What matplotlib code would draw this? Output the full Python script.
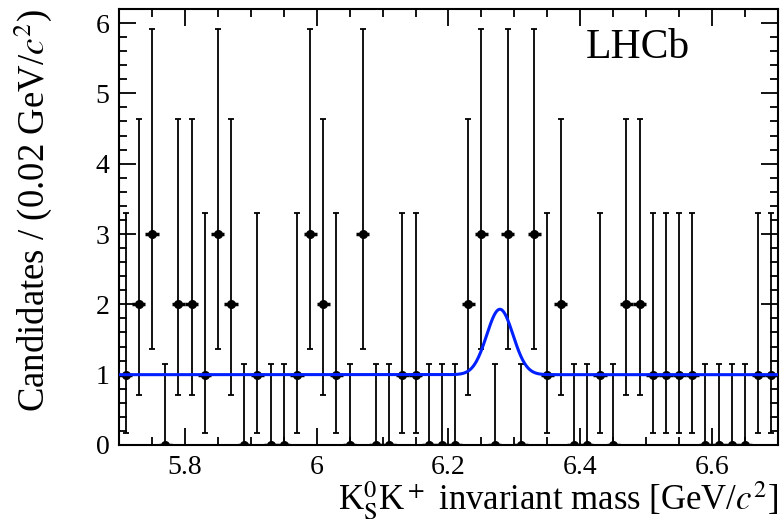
import numpy as np
import matplotlib
matplotlib.use("Agg")
from matplotlib import pyplot as plt
from matplotlib.ticker import MultipleLocator

plt.rcParams['font.family'] = ['Liberation Serif', 'DejaVu Serif']
plt.rcParams['mathtext.fontset'] = 'stix'

# Данные гистограммы: центры бинов (ширина 0.02 ГэВ) и число кандидатов
bin_lo = 5.70
bin_w = 0.02
counts = [1, 2, 3, 0, 2, 2, 1, 3, 2, 0,
          1, 0, 0, 1, 3, 2, 1, 0, 3, 0,
          0, 1, 1, 0, 0, 0, 2, 3, 0, 3,
          0, 3, 1, 2, 0, 0, 1, 0, 2, 2,
          1, 1, 1, 1, 0, 0, 0, 0, 1, 1]
# пуассоновские ошибки (нижняя / верхняя) в зависимости от числа событий
err_low = [0.0, 0.827, 1.292, 1.633]
err_high = [1.148, 2.300, 2.638, 2.918]

# параметры аппроксимации: фон + гаусс
bkg = 1.0
amp = 0.93
mean = 6.278
sigma = 0.020

centers = bin_lo + bin_w * (np.arange(len(counts)) + 0.5)
n = np.array(counts)
lo = np.array([err_low[c] for c in counts])
hi = np.array([err_high[c] for c in counts])

fig = plt.figure(figsize=(7.8, 5.27), dpi=100)
ax = fig.add_axes([0.1526, 0.1556, 0.8448, 0.8274])

ax.errorbar(centers, n, yerr=[lo, hi], fmt='none', ecolor='black',
            elinewidth=1.3, capsize=2, capthick=1.3, zorder=2)
ax.errorbar(centers, n, xerr=bin_w / 2, fmt='o', color='black', ms=5.5,
            elinewidth=2.5, zorder=3)

x = np.linspace(5.70, 6.70, 1000)
ax.plot(x, bkg + amp * np.exp(-0.5 * ((x - mean) / sigma) ** 2),
        color='#0020ff', lw=2.2, zorder=4)

ax.set_xlim(5.70, 6.70)
ax.set_ylim(0, 6.2)
ax.xaxis.set_major_locator(MultipleLocator(0.2))
ax.xaxis.set_minor_locator(MultipleLocator(0.05))
ax.yaxis.set_major_locator(MultipleLocator(1))
ax.yaxis.set_minor_locator(MultipleLocator(0.2))
ax.set_xticks([5.8, 6.0, 6.2, 6.4, 6.6])
ax.set_xticklabels(['5.8', '6', '6.2', '6.4', '6.6'])
ax.tick_params(which='both', direction='in', top=True, right=True,
               labelsize=20, width=1.3)
ax.tick_params(which='major', length=12, pad=7)
ax.tick_params(which='minor', length=6)
for s in ax.spines.values():
    s.set_linewidth(1.5)

ax.set_xlabel(r'K$^0_{\rm S}$K$^+$ invariant mass [GeV/$c^2$]', fontsize=25,
              loc='right', labelpad=0)
ax.set_ylabel(r'Candidates / (0.02 GeV/$c^2$)', fontsize=26.5, loc='top',
              labelpad=30)
ax.text(0.788, 0.91, 'LHCb', transform=ax.transAxes, fontsize=30,
        ha='center', va='center')

fig.savefig('out.png', dpi=100)
